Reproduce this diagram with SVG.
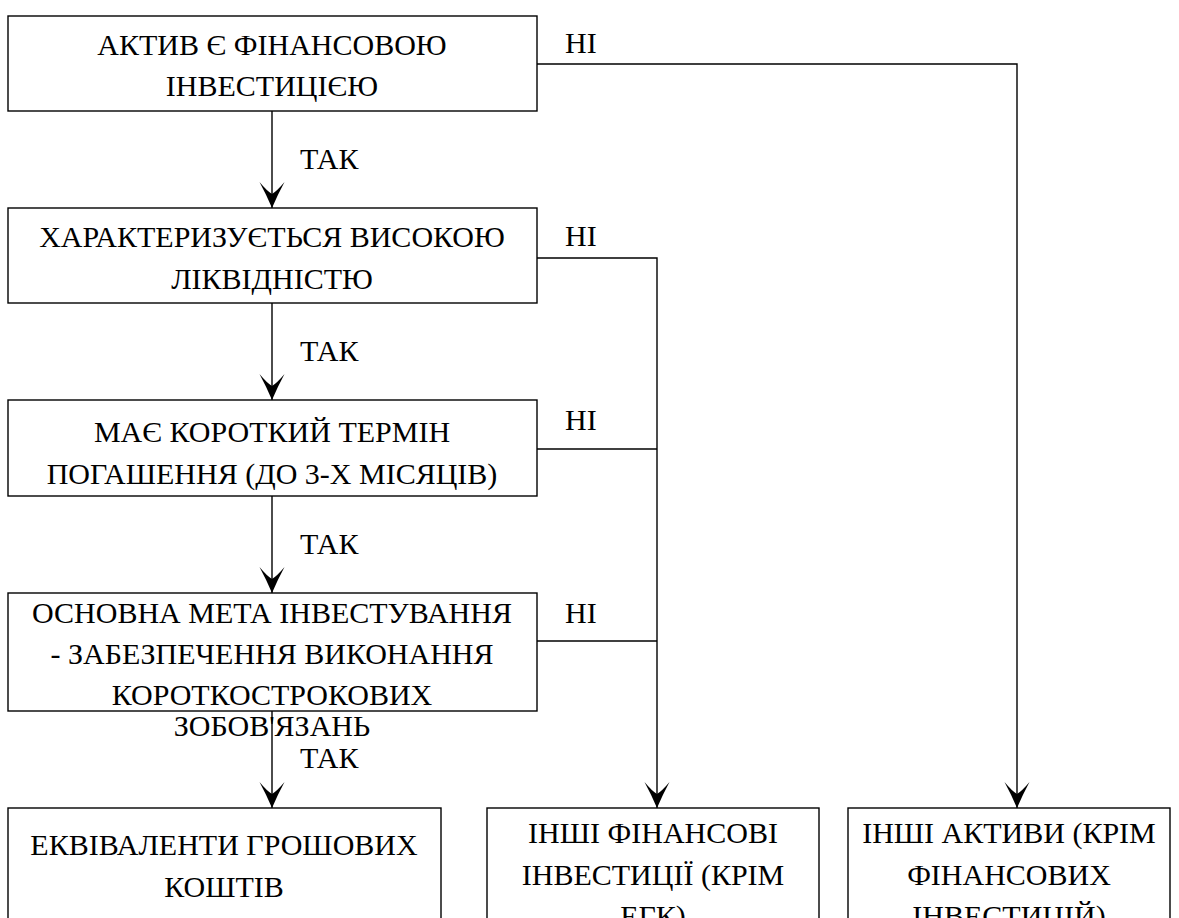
<svg xmlns="http://www.w3.org/2000/svg" width="1179" height="918" viewBox="0 0 1179 918" font-family="Liberation Serif, Times New Roman, serif">
  <style>
    .box { fill: #fff; stroke: #000; stroke-width: 1.4; }
    text { font-family: "Liberation Serif", "Times New Roman", serif; font-size: 30px; fill: #000; }
    .t { text-anchor: middle; }
    .wire { fill: none; stroke: #000; stroke-width: 1.4; }
  </style>
  <defs>
    <!-- notched arrowhead with concave barbs -->
    <marker id="arrow" markerUnits="userSpaceOnUse" markerWidth="26" markerHeight="28" refX="26" refY="13" orient="auto" viewBox="0 0 26 26">
      <path d="M26,13 Q12,7 0,0.5 Q9,8 12,13 Q9,18 0,25.5 Q12,19 26,13 Z" fill="#000"/>
    </marker>
  </defs>
  <rect width="1179" height="918" fill="#fff"/>

  <g id="connectors">
    <path class="wire" d="M272,111 V208" marker-end="url(#arrow)"/>
    <path class="wire" d="M272,303 V400" marker-end="url(#arrow)"/>
    <path class="wire" d="M272,496 V593" marker-end="url(#arrow)"/>
    <path class="wire" d="M272,711 V808" marker-end="url(#arrow)"/>
    <path class="wire" d="M537,64 H1017 V808" marker-end="url(#arrow)"/>
    <path class="wire" d="M537,258 H657 V808" marker-end="url(#arrow)"/>
    <path class="wire" d="M537,449 H657"/>
    <path class="wire" d="M537,641 H657"/>
    <text x="300" y="169">ТАК</text>
    <text x="300" y="361">ТАК</text>
    <text x="300" y="554">ТАК</text>
    <text x="300" y="768">ТАК</text>
    <text x="565" y="53">НІ</text>
    <text x="565" y="246">НІ</text>
    <text x="565" y="430">НІ</text>
    <text x="565" y="623">НІ</text>
  </g>

  <g id="node-financial-investment">
    <rect class="box" x="8" y="16" width="529" height="95"/>
    <text class="t" x="272" y="55">АКТИВ Є ФІНАНСОВОЮ</text>
    <text class="t" x="272" y="96">ІНВЕСТИЦІЄЮ</text>
  </g>

  <g id="node-liquidity">
    <rect class="box" x="8" y="208" width="529" height="95"/>
    <text class="t" x="272" y="247">ХАРАКТЕРИЗУЄТЬСЯ ВИСОКОЮ</text>
    <text class="t" x="272" y="289">ЛІКВІДНІСТЮ</text>
  </g>

  <g id="node-short-term">
    <rect class="box" x="8" y="400" width="529" height="96"/>
    <text class="t" x="272" y="442">МАЄ КОРОТКИЙ ТЕРМІН</text>
    <text class="t" x="272" y="484">ПОГАШЕННЯ (ДО 3-Х МІСЯЦІВ)</text>
  </g>

  <g id="node-purpose">
    <rect class="box" x="8" y="593" width="529" height="118"/>
    <text class="t" x="272" y="623">ОСНОВНА МЕТА ІНВЕСТУВАННЯ</text>
    <text class="t" x="272" y="664">- ЗАБЕЗПЕЧЕННЯ ВИКОНАННЯ</text>
    <text class="t" x="272" y="705">КОРОТКОСТРОКОВИХ</text>
    <text class="t" x="272" y="736">ЗОБОВ'ЯЗАНЬ</text>
  </g>

  <g id="node-cash-equivalents">
    <rect class="box" x="8" y="808" width="433" height="120"/>
    <text class="t" x="224" y="855">ЕКВІВАЛЕНТИ ГРОШОВИХ</text>
    <text class="t" x="224" y="897">КОШТІВ</text>
  </g>

  <g id="node-other-financial">
    <rect class="box" x="487" y="808" width="332" height="120"/>
    <text class="t" x="653" y="843">ІНШІ ФІНАНСОВІ</text>
    <text class="t" x="653" y="885">ІНВЕСТИЦІЇ (КРІМ</text>
    <text class="t" x="653" y="926">ЕГК)</text>
  </g>

  <g id="node-other-assets">
    <rect class="box" x="848" y="808" width="322" height="120"/>
    <text class="t" x="1009" y="843">ІНШІ АКТИВИ (КРІМ</text>
    <text class="t" x="1009" y="885">ФІНАНСОВИХ</text>
    <text class="t" x="1009" y="926">ІНВЕСТИЦІЙ)</text>
  </g>
</svg>
